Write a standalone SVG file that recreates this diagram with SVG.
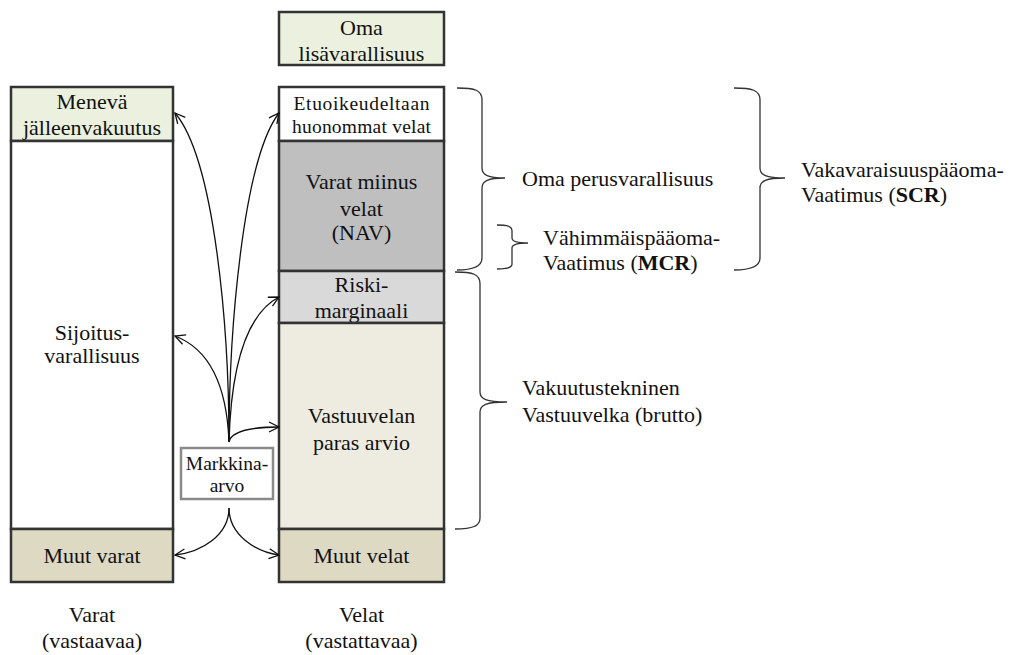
<svg xmlns="http://www.w3.org/2000/svg" width="1011" height="655" viewBox="0 0 1011 655">
<defs>
<style>
.box{stroke:#333;stroke-width:2.5}
.t{font-family:"Liberation Serif","Times New Roman",serif;font-size:22px;fill:#111}
.c{text-anchor:middle}
.s{font-size:19.5px}
.conn{fill:none;stroke:#111;stroke-width:1.3}
.br{fill:none;stroke:#333;stroke-width:1.3}
</style>
<marker id="ah" viewBox="0 0 12 12" refX="11" refY="6" markerWidth="12" markerHeight="12" markerUnits="userSpaceOnUse" orient="auto">
<path d="M1,1 L11,6 L1,11" fill="none" stroke="#111" stroke-width="1.3"/>
</marker>
</defs>
<rect width="1011" height="655" fill="#fff"/>

<g id="oma-lisa">
<rect class="box" x="279" y="12" width="165" height="53" fill="#EBF1DE"/>
<text class="t c" x="361.5" y="35">Oma</text>
<text class="t c" x="361.5" y="61">lisävarallisuus</text>
</g>

<g id="meneva">
<rect class="box" x="11" y="87" width="162" height="54" fill="#EBF1DE"/>
<text class="t c" x="92" y="109">Menevä</text>
<text class="t c" x="92" y="135">jälleenvakuutus</text>
</g>
<g id="sijoitus">
<rect class="box" x="11" y="141" width="162" height="388" fill="#fff"/>
<text class="t c" x="92" y="340">Sijoitus-</text>
<text class="t c" x="92" y="363">varallisuus</text>
</g>
<g id="muut-varat">
<rect class="box" x="11" y="529" width="162" height="53" fill="#DDD9C3"/>
<text class="t c" x="92" y="563">Muut varat</text>
</g>

<g id="etuoikeus">
<rect class="box" x="279" y="87" width="165" height="54" fill="#fff"/>
<text class="t c s" x="361.5" y="110" textLength="136" lengthAdjust="spacing">Etuoikeudeltaan</text>
<text class="t c s" x="361.5" y="133" textLength="139" lengthAdjust="spacing">huonommat velat</text>
</g>
<g id="nav">
<rect class="box" x="279" y="141" width="165" height="130" fill="#BFBFBF"/>
<text class="t c" x="361.5" y="189">Varat miinus</text>
<text class="t c" x="361.5" y="216">velat</text>
<text class="t c" x="361.5" y="240">(NAV)</text>
</g>
<g id="riski">
<rect class="box" x="279" y="271" width="165" height="52" fill="#D9D9D9"/>
<text class="t c" x="361.5" y="292">Riski-</text>
<text class="t c" x="361.5" y="318">marginaali</text>
</g>
<g id="vastuuvelan">
<rect class="box" x="279" y="323" width="165" height="206" fill="#EEECE1"/>
<text class="t c" x="361.5" y="423">Vastuuvelan</text>
<text class="t c" x="361.5" y="450">paras arvio</text>
</g>
<g id="muut-velat">
<rect class="box" x="279" y="529" width="165" height="53" fill="#DDD9C3"/>
<text class="t c" x="361.5" y="563">Muut velat</text>
</g>

<g id="markkina">
<rect x="181" y="448" width="92" height="51" fill="#fff" stroke="#8a8a8a" stroke-width="2.5"/>
<text class="t c s" x="227" y="470">Markkina-</text>
<text class="t c s" x="227" y="492">arvo</text>
</g>

<g id="varat-label">
<text class="t c" x="92" y="622">Varat</text>
<text class="t c" x="92" y="648">(vastaavaa)</text>
</g>
<g id="velat-label">
<text class="t c" x="361.5" y="622">Velat</text>
<text class="t c" x="361.5" y="648">(vastattavaa)</text>
</g>

<g id="connectors">
<path class="conn" marker-end="url(#ah)" d="M229,442 C229,330 215,160 175,113"/>
<path class="conn" marker-end="url(#ah)" d="M229,442 C229,330 243,160 279,113"/>
<path class="conn" marker-end="url(#ah)" d="M229,442 C231,370 245,315 279,297"/>
<path class="conn" marker-end="url(#ah)" d="M229,442 C227,390 212,350 175,336"/>
<path class="conn" marker-end="url(#ah)" d="M229,442 C231,432 250,427 279,427"/>
<path class="conn" marker-end="url(#ah)" d="M229,508 C229,535 202,552 175,555"/>
<path class="conn" marker-end="url(#ah)" d="M229,508 C229,535 256,552 279,555"/>
</g>

<g id="brace-oma-perus">
<path class="br" d="M457,88 C475,88 482,90 482,100 L482,168 C482,175 488,178 505,178 C488,178 482,181 482,188 L482,258 C482,266 475,270 457,270"/>
<text class="t" x="522" y="186">Oma perusvarallisuus</text>
</g>
<g id="brace-mcr">
<path class="br" d="M497,225 C507,225 512,226 512,231 L512,238 C512,241 516,243 528,243 C516,243 512,245 512,248 L512,264 C512,268 507,269 497,269"/>
<text class="t" x="543" y="245">Vähimmäispääoma-</text>
<text class="t" x="543" y="270">Vaatimus (<tspan font-weight="bold">MCR</tspan>)</text>
</g>
<g id="brace-scr">
<path class="br" d="M734,88 C752,88 760,90 760,100 L760,168 C760,175 766,178 785,178 C766,178 760,181 760,188 L760,258 C760,266 752,270 734,270"/>
<text class="t" x="801" y="177">Vakavaraisuuspääoma-</text>
<text class="t" x="801" y="202">Vaatimus (<tspan font-weight="bold">SCR</tspan>)</text>
</g>
<g id="brace-vakuutus">
<path class="br" d="M455,272 C473,272 480,274 480,284 L480,392 C480,399 486,402 507,402 C486,402 480,405 480,412 L480,518 C480,526 473,529 455,529"/>
<text class="t" x="522" y="395">Vakuutustekninen</text>
<text class="t" x="522" y="422">Vastuuvelka (brutto)</text>
</g>
</svg>
